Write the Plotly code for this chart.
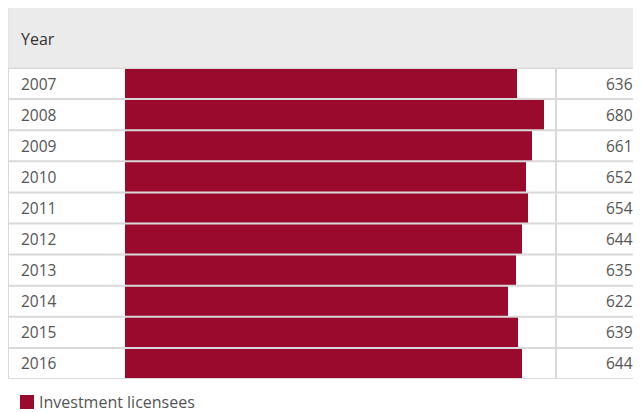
import plotly.graph_objects as go

years = ["2007", "2008", "2009", "2010", "2011", "2012", "2013", "2014", "2015", "2016"]
values = [636, 680, 661, 652, 654, 644, 635, 622, 639, 644]
series_name = "Investment licensees"
header_label = "Year"

BAR = "#990a2c"
LINE = "#d9d9d9"
TXT = "#555555"
FONT = "Open Sans, Lato, sans-serif"

# page body has an 8px offset; figure origin sits at (8, 8)
OX, OY = 8, 8
W, H = 641 - OX, 412 - OY
ML, MR, MT, MB = 0, 4, 68 - OY, 33
PW = W - ML - MR
PH = H - MT - MB
x_bar0 = (125 - OX - ML) / PW
x_bar1 = (556 - OX - ML) / PW

idx = list(range(len(years)))

fig = go.Figure()
fig.add_trace(go.Bar(
    y=idx, x=values, orientation="h",
    marker=dict(color=BAR, line=dict(width=0)),
    name=series_name, showlegend=False,
))

shapes = []
shapes.append(dict(type="rect", xref="paper", yref="paper", x0=0, x1=1,
                   y0=1, y1=1 + 61 / PH, fillcolor="#ebebeb",
                   line=dict(color="#dddddd", width=1), layer="below"))
for i in range(len(years) + 1):
    shapes.append(dict(type="line", xref="paper", yref="y", x0=0, x1=1,
                       y0=i - 0.5, y1=i - 0.5, line=dict(color=LINE, width=2),
                       layer="above"))
for xp in [0, x_bar1]:
    shapes.append(dict(type="line", xref="paper", yref="paper", x0=xp, x1=xp,
                       y0=0, y1=1, line=dict(color=LINE, width=2), layer="above"))

# legend swatch (drawn manually to match spacing)
shapes.append(dict(type="rect", xref="paper", yref="paper",
                   x0=(20 - OX) / PW, x1=(34 - OX) / PW,
                   y0=-(395 - 379) / PH, y1=-(409 - 379) / PH,
                   fillcolor=BAR, line=dict(width=0)))

xl = (19 - OX - ML) / PW
xr = (635 - OX - ML) / PW
annotations = [dict(text=header_label, xref="paper", yref="paper",
                    x=xl, y=1 + 29 / PH, xanchor="left", yanchor="middle",
                    showarrow=False, font=dict(family=FONT, size=16, color="#333333"))]
for i, (yr, v) in enumerate(zip(years, values)):
    annotations.append(dict(text=yr, xref="paper", yref="y", x=xl, y=i,
                            xanchor="left", yanchor="middle", showarrow=False,
                            font=dict(family=FONT, size=15.5, color=TXT)))
    annotations.append(dict(text=str(v), xref="paper", yref="y", x=xr, y=i,
                            xanchor="right", yanchor="middle", showarrow=False,
                            font=dict(family=FONT, size=15.5, color=TXT)))
annotations.append(dict(text=series_name, xref="paper", yref="paper",
                        x=(37 - OX) / PW, y=-(402 - 379) / PH,
                        xanchor="left", yanchor="middle", showarrow=False,
                        font=dict(family=FONT, size=16, color="#555555")))

fig.update_layout(
    width=W, height=H,
    margin=dict(l=ML, r=MR, t=MT, b=MB, autoexpand=False),
    paper_bgcolor="white", plot_bgcolor="white",
    bargap=0,
    xaxis=dict(domain=[x_bar0, x_bar1], range=[0, 700], visible=False, fixedrange=True),
    yaxis=dict(range=[len(years) - 0.5, -0.5], visible=False, fixedrange=True),
    shapes=shapes, annotations=annotations,
    showlegend=False,
)

fig.write_html("out.html")
